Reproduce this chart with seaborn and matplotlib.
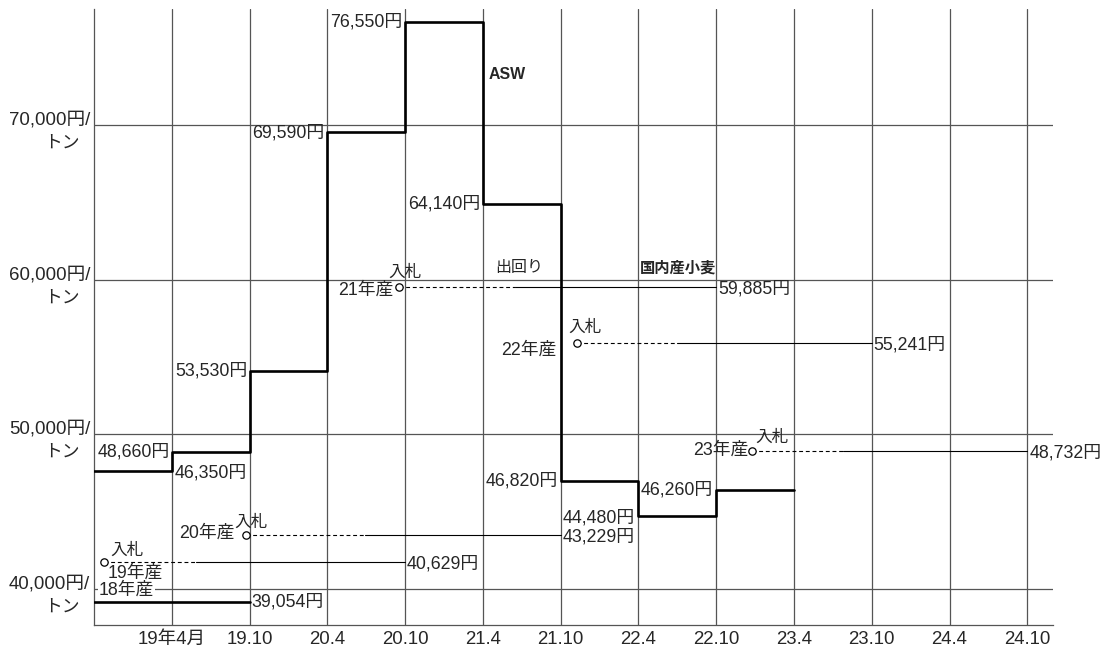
import numpy as np
import pandas as pd
import matplotlib
matplotlib.use("Agg")
import matplotlib.pyplot as plt
import seaborn as sns

# 期間 (0 = 18.10, 1 = 19年4月, ... 12 = 24.10)
periods = ["19年4月", "19.10", "20.4", "20.10", "21.4", "21.10",
           "22.4", "22.10", "23.4", "23.10", "24.4", "24.10"]

# ASW 政府売渡価格 (図上の水準)
asw_x = [0, 1, 2, 3, 4, 5, 6, 7, 8, 9]
asw_y = [47640, 48870, 54110, 69580, 76700, 64920, 46990, 44725, 46410, 46410]
asw_labels = ["48,660円", "46,350円", "53,530円", "69,590円", "76,550円",
              "64,140円", "46,820円", "44,480円", "46,260円"]

# 国内産小麦 入札価格 (図上の水準)
crop_years = ["19年産", "20年産", "21年産", "22年産", "23年産"]
bid_x = [0.13, 1.95, 3.92, 6.21, 8.46]
flow_x = [1.31, 3.48, 5.41, 7.49, 9.63]
end_x = [4, 6, 8, 10, 12]
bid_y = [41750, 43495, 59550, 55920, 48930]
bid_labels = ["40,629円", "43,229円", "59,885円", "55,241円", "48,732円"]

# 18年産
y18 = 39160
y18_label = "39,054円"

grid_y = [40000, 50000, 60000, 70000]
grid_labels = ["40,000円/", "50,000円/", "60,000円/", "70,000円/"]

sns.set_style("white")
plt.rcParams["font.family"] = ["Liberation Sans", "Noto Sans CJK JP", "DejaVu Sans"]
FS = 12.8
AX_FS = 13.4

fig = plt.figure(figsize=(11.08, 6.49), dpi=100)
ax = fig.add_axes([94 / 1108, 1 - 625 / 649, (1053 - 94) / 1108, (625 - 9) / 649])
ax.set_xlim(0, 12.33)
ax.set_ylim(37670, 77540)

gcol = "#555555"
for v in grid_y:
    ax.axhline(v, color=gcol, lw=0.9, zorder=1)
for i in range(1, 13):
    ax.axvline(i, color=gcol, lw=0.9, zorder=1)

for s in ["top", "right"]:
    ax.spines[s].set_visible(False)
for s in ["left", "bottom"]:
    ax.spines[s].set_color(gcol)
    ax.spines[s].set_linewidth(0.9)

ax.set_xticks(range(1, 13))
ax.set_xticklabels(periods, fontsize=AX_FS)
ax.set_yticks([])
ax.tick_params(axis="x", length=0, pad=4)

# ASW 段階線
df = pd.DataFrame({"x": asw_x, "y": asw_y})
sns.lineplot(data=df, x="x", y="y", drawstyle="steps-post", color="black",
             lw=1.9, estimator=None, ax=ax, zorder=3)
ax.set_xlabel("")
ax.set_ylabel("")

# 18年産 (太線)
sns.lineplot(x=[0, 2], y=[y18, y18], color="black", lw=1.9, ax=ax, zorder=3)

# 入札 → 出回り
for bx, fx, ex, by in zip(bid_x, flow_x, end_x, bid_y):
    ax.plot([bx, fx], [by, by], color="black", lw=0.8, ls=(0, (3.5, 2.5)), zorder=2)
    ax.plot([fx, ex], [by, by], color="black", lw=0.8, zorder=2)
sns.scatterplot(x=bid_x, y=bid_y, marker="o", s=28, facecolor="white",
                edgecolor="black", linewidth=0.9, ax=ax, zorder=4)


def lab(x, y, s, dx=0, dy=0, ha="left", fs=FS, **kw):
    ax.annotate(s, xy=(x, y), xytext=(dx, dy), textcoords="offset pixels",
                ha=ha, va="center", fontsize=fs, **kw)


# ASW ラベル
lab(1, asw_y[1], asw_labels[0], dx=-2, ha="right")
lab(1, asw_y[0], asw_labels[1], dx=3, dy=-2)
lab(2, asw_y[2], asw_labels[2], dx=-2, ha="right")
lab(3, asw_y[3], asw_labels[3], dx=-3, dy=-1, ha="right")
lab(4, asw_y[4], asw_labels[4], dx=-3, ha="right")
lab(5, asw_y[5], asw_labels[5], dx=-3, ha="right")
lab(6, asw_y[6], asw_labels[6], dx=-3, ha="right")
lab(6, asw_y[7], asw_labels[7], dx=2, dy=-2)
lab(8, asw_y[8], asw_labels[8], dx=-3, ha="right")

# 入札価格ラベル
for ex, by, s in zip(end_x, bid_y, bid_labels):
    lab(ex, by, s, dx=2, dy=-2)
lab(2, y18, y18_label, dx=2)

# 年産・入札
lab(bid_x[0], bid_y[0], crop_years[0], dx=4, dy=-11)
lab(bid_x[0], bid_y[0], "入札", dx=6, dy=12, fs=12)
lab(bid_x[1], bid_y[1], crop_years[1], dx=-11, dy=2, ha="right")
lab(bid_x[1], bid_y[1], "入札", dx=-11, dy=13, fs=12)
lab(bid_x[2], bid_y[2], crop_years[2], dx=-6, dy=-3, ha="right")
lab(bid_x[2], bid_y[2], "入札", dx=-11, dy=15, fs=12)
lab(6, bid_y[3], crop_years[3], dx=-4, dy=-7, ha="right")
lab(bid_x[3], bid_y[3], "入札", dx=-9, dy=16, fs=12)
lab(bid_x[4], bid_y[4], crop_years[4], dx=-4, dy=1, ha="right")
lab(bid_x[4], bid_y[4], "入札", dx=3, dy=14, fs=12)
lab(0, 40000, "18年産", dx=5, dy=-1,
    bbox=dict(boxstyle="square,pad=0.05", fc="white", ec="none"))

# 凡例的ラベル
ax.text(5.07, 73330, "ASW", fontsize=11.4, weight="bold", ha="left", va="center")
ax.text(7.02, 60780, "国内産小麦", fontsize=11, weight="bold", ha="left", va="center")
ax.text(5.16, 60780, "出回り", fontsize=11.5, ha="left", va="center")

# 縦軸ラベル
for v, s in zip(grid_y, grid_labels):
    ax.annotate(s, xy=(0, v), xycoords=("axes fraction", "data"), xytext=(-4, 5),
                textcoords="offset pixels", ha="right", va="center", fontsize=AX_FS)
    ax.annotate("トン", xy=(0, v), xycoords=("axes fraction", "data"), xytext=(-14, -18),
                textcoords="offset pixels", ha="right", va="center", fontsize=FS)

fig.savefig("out.png", dpi=100)
